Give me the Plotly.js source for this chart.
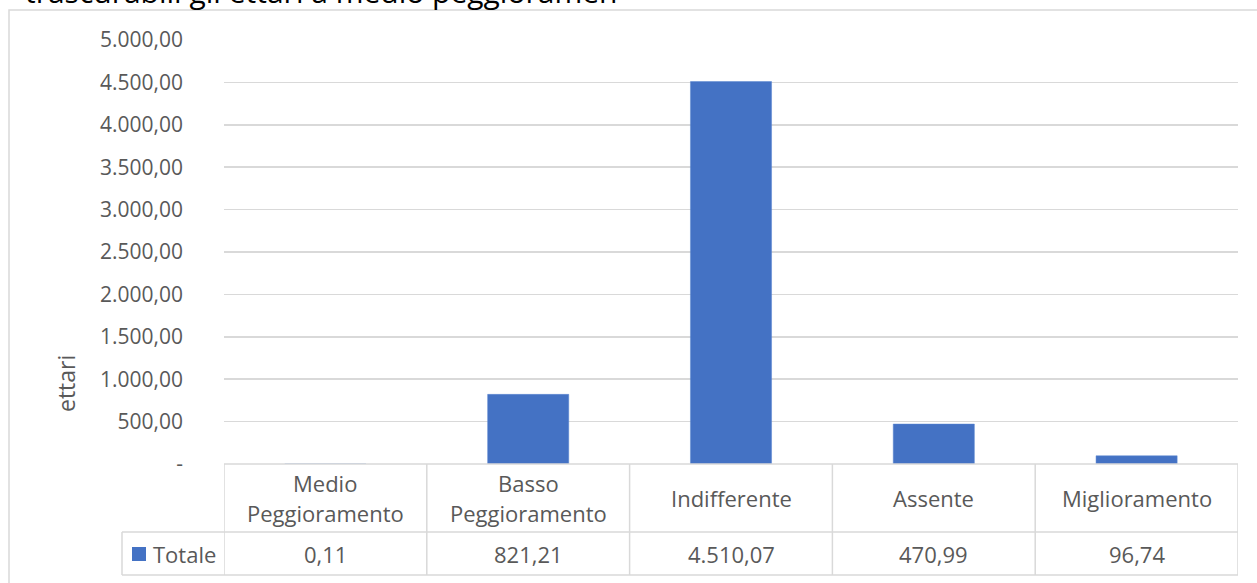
<!DOCTYPE html>
<html>
<head>
<meta charset="utf-8">
<script src="https://cdn.plot.ly/plotly-3.0.1.min.js"></script>
<style>
html,body{margin:0;padding:0;background:#fff;}
#chart{width:1257px;height:583px;}
</style>
</head>
<body>
<div id="chart"></div>
<script>
// ---- data ----
var categories = ["Medio Peggioramento", "Basso Peggioramento", "Indifferente", "Assente", "Miglioramento"];
var categoryLabels = ["Medio<br>Peggioramento", "Basso<br>Peggioramento", "Indifferente", "Assente", "Miglioramento"];
var totale = [0.11, 821.21, 4510.07, 470.99, 96.74];
var seriesName = "Totale";
var yTickVals = [0, 500, 1000, 1500, 2000, 2500, 3000, 3500, 4000, 4500, 5000];
var yTickLabels = ["-", "500,00", "1.000,00", "1.500,00", "2.000,00", "2.500,00", "3.000,00", "3.500,00", "4.000,00", "4.500,00", "5.000,00"];
var yTitle = "ettari";
var titleText = "trascurabili gli ettari a medio peggioramen";

function fmtIt(v) {
  var s = v.toFixed(2).split(".");
  var intPart = s[0].replace(/\B(?=(\d{3})+(?!\d))/g, ".");
  return intPart + "," + s[1];
}

// ---- layout geometry (pixels) ----
var W = 1257, H = 583;
var mL = 224, mR = 19, mT = 40, mB = 119;
var plotW = W - mL - mR, plotH = H - mT - mB;
function px2x(px) { return (px - mL) / plotW; }
function py2y(py) { return (H - mB - py) / plotH; }

var gray = "#595959", border = "#d9d9d9";
var fontFam = "'Open Sans', 'Noto Sans', sans-serif";

var shapes = [];
var annotations = [];
var rowTop = 464, rowMid = 532, rowBot = 575, legLeft = 122;

// outer chart frame
shapes.push({type: "rect", xref: "paper", yref: "paper", x0: px2x(9), x1: px2x(1300), y0: py2y(640), y1: py2y(10),
  line: {color: border, width: 1.5}, fillcolor: "rgba(0,0,0,0)", layer: "below"});

// table horizontal lines
shapes.push({type: "line", xref: "paper", yref: "paper", x0: 0, x1: 1, y0: py2y(rowTop), y1: py2y(rowTop), line: {color: border, width: 1.5}});
shapes.push({type: "line", xref: "paper", yref: "paper", x0: px2x(legLeft), x1: 1, y0: py2y(rowMid), y1: py2y(rowMid), line: {color: border, width: 1.5}});
shapes.push({type: "line", xref: "paper", yref: "paper", x0: px2x(legLeft), x1: 1, y0: py2y(rowBot), y1: py2y(rowBot), line: {color: border, width: 1.5}});
// legend cell left border
shapes.push({type: "line", xref: "paper", yref: "paper", x0: px2x(legLeft), x1: px2x(legLeft), y0: py2y(rowMid), y1: py2y(rowBot), line: {color: border, width: 1.5}});
// column separators
for (var i = 0; i <= categories.length; i++) {
  shapes.push({type: "line", xref: "x", yref: "paper", x0: i - 0.5, x1: i - 0.5, y0: py2y(rowTop), y1: py2y(rowBot), line: {color: border, width: 1.5}});
}
// legend key square
shapes.push({type: "rect", xref: "paper", yref: "paper", x0: px2x(132), x1: px2x(146), y0: py2y(561), y1: py2y(547),
  line: {width: 0}, fillcolor: "#4472C4"});

annotations.push({xref: "paper", yref: "paper", x: px2x(151), y: py2y(553.5), xanchor: "left", yanchor: "middle",
  text: seriesName, showarrow: false, font: {family: fontFam, size: 22, color: gray}});

for (var j = 0; j < categories.length; j++) {
  var lines = categoryLabels[j].split("<br>");
  var lineGap = 30;
  var y0 = 498 - (lines.length - 1) * lineGap / 2;
  for (var k = 0; k < lines.length; k++) {
    annotations.push({xref: "x", yref: "paper", x: j, y: py2y(y0 + k * lineGap), xanchor: "center", yanchor: "middle",
      text: lines[k], showarrow: false, font: {family: fontFam, size: 22, color: gray}});
  }
  annotations.push({xref: "x", yref: "paper", x: j, y: py2y(553.5), xanchor: "center", yanchor: "middle",
    text: fmtIt(totale[j]), showarrow: false, font: {family: fontFam, size: 22, color: gray}});
}

// y-axis title
annotations.push({xref: "paper", yref: "paper", x: px2x(66), y: py2y(384), xanchor: "center", yanchor: "middle",
  text: yTitle, textangle: -90, showarrow: false, font: {family: fontFam, size: 23, color: gray}});

// cut-off title at the top
annotations.push({xref: "paper", yref: "paper", x: px2x(23), y: py2y(-9), xanchor: "left", yanchor: "middle",
  text: titleText, showarrow: false, font: {family: fontFam, size: 30, color: "#000"}});

var trace = {
  type: "bar",
  x: categories,
  y: totale,
  name: seriesName,
  marker: {color: "#4472C4", line: {color: "#5b86d0", width: 0.5}},
  width: 0.4,
  hoverinfo: "x+y"
};

var layout = {
  width: W, height: H,
  margin: {l: mL, r: mR, t: mT, b: mB, pad: 0},
  paper_bgcolor: "#fff", plot_bgcolor: "#fff",
  showlegend: false,
  bargap: 0.6,
  xaxis: {type: "category", range: [-0.5, categories.length - 0.5], showticklabels: false, showgrid: false,
    zeroline: false, showline: false, ticks: "", fixedrange: true},
  yaxis: {range: [0, 5000], tickvals: yTickVals, ticktext: yTickLabels, showgrid: true, gridcolor: border, gridwidth: 1.5,
    zeroline: false, showline: false, ticks: "", ticklabelstandoff: 40,
    tickfont: {family: fontFam, size: 21, color: gray}, fixedrange: true},
  shapes: shapes,
  annotations: annotations
};

Plotly.newPlot("chart", [trace], layout, {displayModeBar: false, staticPlot: true});
</script>
</body>
</html>
